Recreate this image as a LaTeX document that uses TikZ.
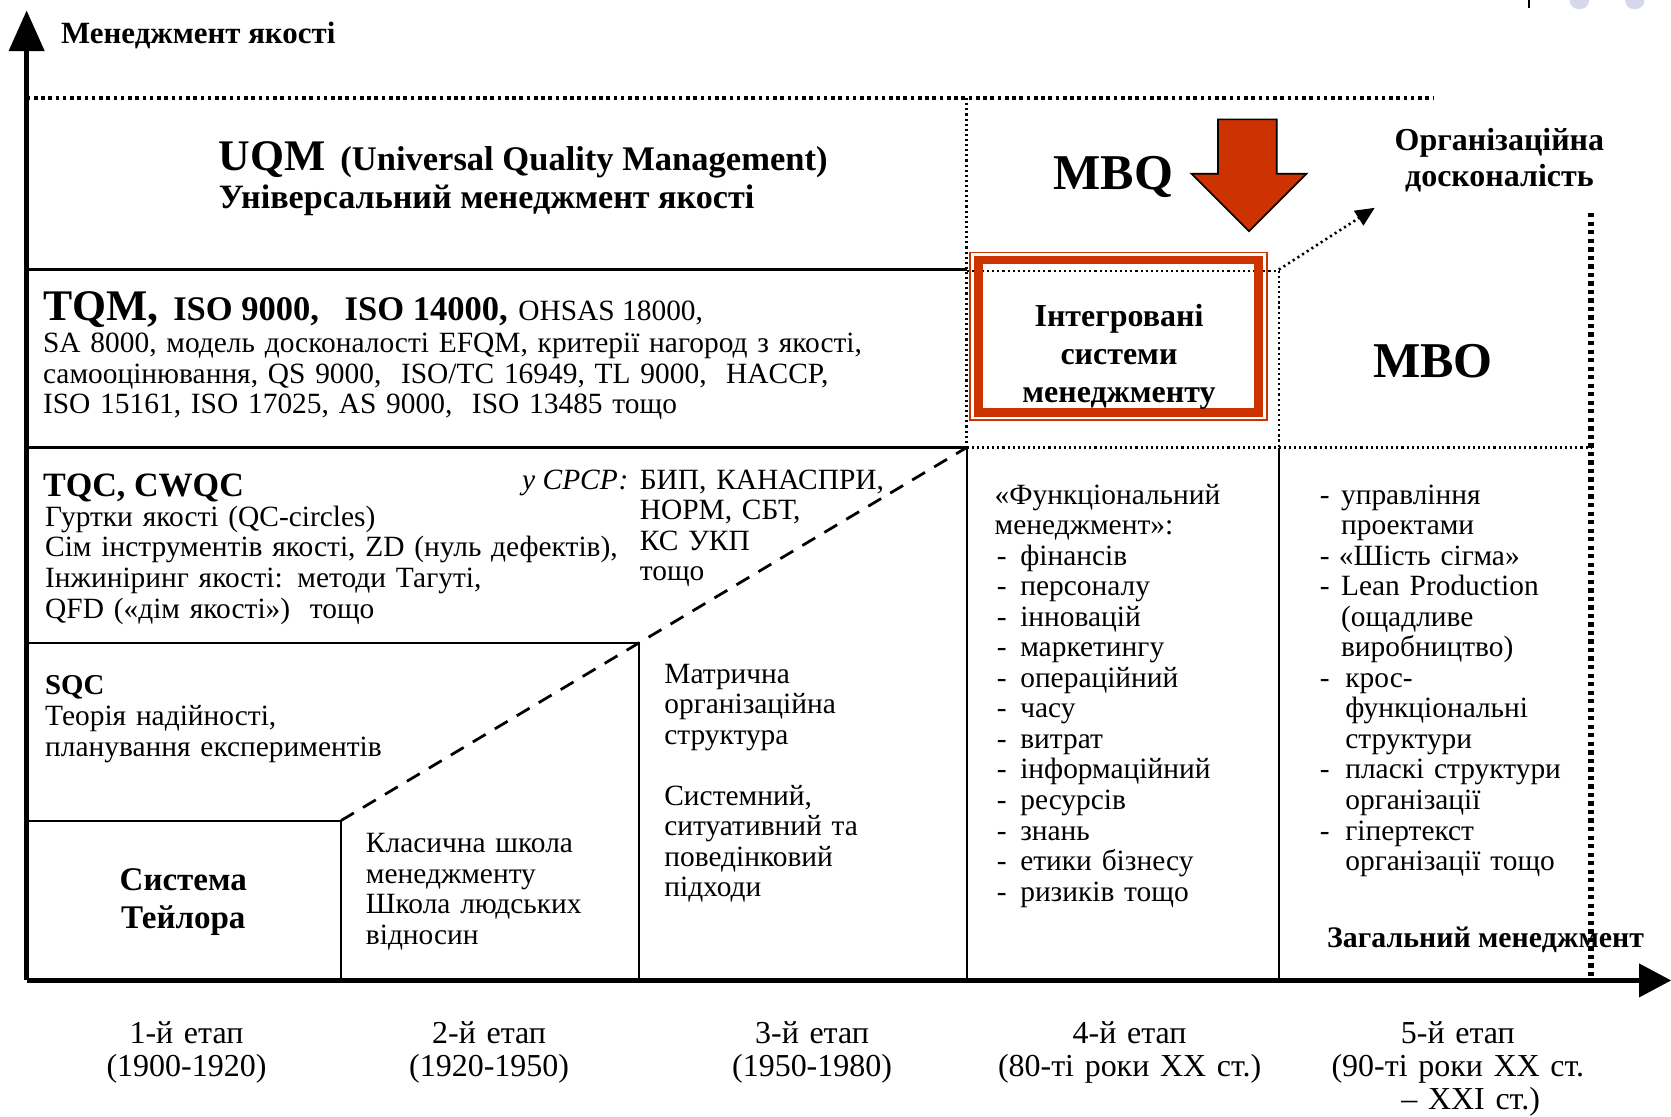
\documentclass[tikz,border=0pt]{standalone}
\usepackage{fontspec}
\setmainfont{Liberation Serif}
\usetikzlibrary{arrows.meta}
\definecolor{qred}{RGB}{204,51,0}
\definecolor{lav}{RGB}{214,214,236}
\newcommand\fs[2]{\fontsize{#1}{#2}\selectfont}
\newcommand\da[1]{\makebox[#1][l]{\hspace{1pt}-}}
\begin{document}
\begin{tikzpicture}[x=0.5pt,y=-0.5pt,
  cell/.style={line width=1pt},
  fdot/.style={line width=1.1pt, dash pattern=on 1pt off 1.4pt},
  txt/.style={inner sep=0pt, anchor=base west, font=\fs{13.8}{14.33}},
  blk/.style={inner sep=0pt, anchor=base west, text width=#1, align=left, font=\fs{13.8}{14.33}},
  cblk/.style={inner sep=0pt, anchor=base, text width=#1, align=center},
  lbl/.style={inner sep=0pt, anchor=base, text width=90pt, align=center, font=\fs{15}{15.5}}]
\useasboundingbox (0,0) rectangle (1568,1048);

% stray marks at the top edge
\draw[line width=0.8pt] (1435,0) coordinate (tk1) -- (1435,7.5) coordinate (tk2);
\fill[lav, rounded corners=4pt] (1473,-10) rectangle (1491,8.5);
\fill[lav, rounded corners=4pt] (1525,-10) rectangle (1543,8.5);

% axes
\coordinate (O) at (25,920);
\coordinate (Ytop) at (25,44);
\coordinate (Xend) at (1542,920);
\draw[line width=2.6pt] (O) -- (Ytop);
\fill (25,10) -- (42,48) -- (8,48) -- cycle;
\draw[line width=2.6pt] (O) -- (Xend);
\fill (1568,920) -- (1538,904) -- (1538,936) -- cycle;

% top dotted line
\draw[line width=1.7pt, dash pattern=on 1.7pt off 1.7pt] (25,92) -- (1345,92);

% grid lines
\draw[line width=1.3pt] (25,253) -- (907,253);
\draw[fdot] (907,92) -- (907,420);
\draw[line width=1.3pt] (25,420) -- (907,420);
\draw[fdot] (907,420) -- (1493,420);
\draw[fdot] (907,254) -- (1200,254);
\draw[fdot] (1200,254) -- (1200,420);
\draw[cell] (907,420) -- (907,920);
\draw[cell] (1200,420) -- (1200,920);
\draw[cell] (25,603) -- (600,603) -- (600,920);
\draw[cell] (25,770) -- (320,770) -- (320,920);
\draw[line width=1.3pt, dash pattern=on 7pt off 5pt] (320,770) -- (907,420);
\draw[line width=2.5pt, dash pattern=on 2pt off 2pt] (1493,200) -- (1493,918);

% red framed box
\draw[qred, line width=0.7pt] (910,237) rectangle (1189,394);
\draw[qred, line width=4pt] (918,244) rectangle (1181,387);

% big red arrow
\filldraw[fill=qred, draw=black, line width=0.8pt]
  (1143,112) -- (1198,112) -- (1198,163) -- (1226,163) -- (1172,217)
  -- (1118,163) -- (1143,163) -- cycle;

% dotted arrow
\coordinate (da1) at (1200,253);
\coordinate (da2) at (1290,195);
\draw[line width=1.2pt, dash pattern=on 1pt off 1.6pt, -{Triangle[length=9pt,width=8pt]}] (da1) -- (da2);

% texts
\node[txt, font=\fs{14.5}{15}\bfseries] (ylab) at (57,41) {Менеджмент якості};

\node[txt] (uqm) at (205,160) {{\fs{20.5}{20}\bfseries UQM}\ \ {\fs{16.2}{16}\bfseries(Universal\ Quality\ Management)}};
\node[txt, font=\fs{16}{16}\bfseries] (uqmua) at (205,196) {Універсальний\ менеджмент\ якості};

\node[txt, font=\fs{23.5}{24}\bfseries] (mbq) at (988,178) {MBQ};
\node[cblk=120pt, font=\fs{15}{17}\bfseries] (org) at (1407,141) {Організаційна\\досконалість};
\node[txt, font=\fs{23.5}{24}\bfseries] (mbo) at (1288,354) {MBO};
\node[cblk=130pt, font=\fs{15}{18}\bfseries] (ism) at (1050,306) {Інтегровані\\системи\\менеджменту};

\node[txt] (tqm) at (40,301) {{\fs{20.5}{20}\bfseries TQM,}\hspace{7pt}{\fs{16.2}{16}\bfseries ISO 9000,\hspace{12pt}ISO 14000,}\hspace{5pt}OHSAS 18000,};
\node[blk=440pt] (tqmb) at (40,331) {SA 8000,\ модель досконалості EFQM,\ критерії нагород з якості,\\
самооцінювання,\ QS 9000,\ \ ISO/TC 16949,\ TL 9000,\ \ HACCP,\\
ISO 15161,\ ISO 17025,\ AS 9000,\ \ ISO 13485 тощо};

\node[txt, font=\fs{16}{16}\bfseries] (tqc) at (40,466) {TQC, CWQC};
\node[blk=300pt] (tqcb) at (42,494) {Гуртки якості (QC-circles)\\
Сім інструментів якості,\ ZD (нуль дефектів),\\
Інжиніринг якості: методи Тагуті,\\
QFD («дім якості»)\ \ тощо};
\node[txt, anchor=base east, font=\fs{13.8}{14.33}\itshape] (ussr) at (590,459) {у СРСР:};
\node[blk=150pt] (ussrb) at (600,459) {БИП,\ КАНАСПРИ,\\НОРМ,\ СБТ,\\КС УКП\\тощо};

\node[txt, font=\fs{13.5}{14}\bfseries] (sqc) at (42,652) {SQC};
\node[blk=200pt] (sqcb) at (42,681) {Теорія надійності,\\планування експериментів};

\node[cblk=120pt, font=\fs{15.5}{17.5}\bfseries] (tay) at (172,836) {Система\\Тейлора};
\node[blk=130pt] (kls) at (343,800) {Класична школа\\менеджменту\\Школа людських\\відносин};
\node[blk=140pt] (mat) at (623,641) {Матрична\\організаційна\\структура\\[14.33pt]Системний,\\ситуативний та\\поведінковий\\підходи};

\node[blk=140pt] (fun) at (933,473) {«Функціональний\\менеджмент»:\\
\da{12pt}фінансів\\\da{12pt}персоналу\\\da{12pt}інновацій\\\da{12pt}маркетингу\\
\da{12pt}операційний\\\da{12pt}часу\\\da{12pt}витрат\\\da{12pt}інформаційний\\
\da{12pt}ресурсів\\\da{12pt}знань\\\da{12pt}етики бізнесу\\\da{12pt}ризиків тощо};

\node[blk=140pt] (gen) at (1236,473) {\da{11pt}управління\\\hspace*{11pt}проектами\\
\da{10pt}«Шість сігма»\\\da{11pt}Lean Production\\\hspace*{11pt}(ощадливе\\\hspace*{11pt}виробництво)\\
\da{13pt}крос-\\\hspace*{13pt}функціональні\\\hspace*{13pt}структури\\
\da{13pt}пласкі структури\\\hspace*{13pt}організації\\\da{13pt}гіпертекст\\\hspace*{13pt}організації тощо};

\node[txt, font=\fs{14}{15}\bfseries] (zag) at (1245,889) {Загальний менеджмент};

\node[lbl] (e1) at (175,979) {1-й етап\\(1900-1920)};
\node[lbl] (e2) at (459,979) {2-й етап\\(1920-1950)};
\node[lbl] (e3) at (762,979) {3-й етап\\(1950-1980)};
\node[lbl, text width=140pt] (e4) at (1060,979) {4-й етап\\(80-ті роки XX ст.)};
\node[lbl, text width=140pt] (e5) at (1368,979) {5-й етап\\(90-ті роки XX ст.\\\hspace*{12pt}– XXІ ст.)};
\end{tikzpicture}
\end{document}
